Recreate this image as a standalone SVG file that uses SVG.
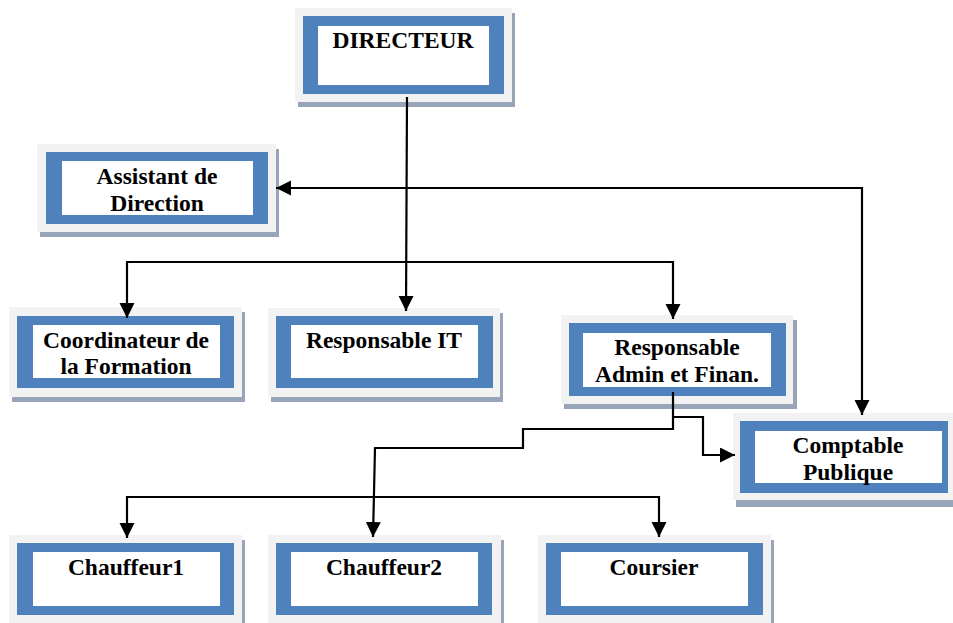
<svg xmlns="http://www.w3.org/2000/svg" width="953" height="623" viewBox="0 0 953 623">
<style>
.sh{fill:#98a4b8}
.fr{fill:#f2f2f2}
.bl{fill:#4f81bd}
.wh{fill:#ffffff}
.t{font-family:"Liberation Serif","Times New Roman",serif;font-weight:bold;font-size:23.5px;fill:#000;text-anchor:middle}
.c{fill:none;stroke:#000;stroke-width:2.2}
</style>
<defs>
<marker id="ah" markerUnits="userSpaceOnUse" markerWidth="16" markerHeight="16" refX="15" refY="7.5" orient="auto" viewBox="0 0 16 16">
<path d="M0,0 L15,7.5 L0,15 z" fill="#000"/>
</marker>
</defs>
<rect width="953" height="623" fill="#fff"/>

<g id="directeur">
<rect class="sh" x="298" y="13" width="217" height="94"/>
<rect class="fr" x="295" y="8" width="217" height="94"/>
<rect class="bl" x="303" y="16" width="201" height="78"/>
<rect class="wh" x="318" y="26" width="171" height="59"/>
<text class="t" x="403" y="48">DIRECTEUR</text>
</g>

<g id="assistant">
<rect class="sh" x="40" y="149" width="239" height="88"/>
<rect class="fr" x="37" y="144" width="239" height="88"/>
<rect class="bl" x="46" y="152" width="222" height="72"/>
<rect class="wh" x="62" y="161" width="191" height="54"/>
<text class="t" x="157" y="184">Assistant de</text>
<text class="t" x="157" y="211">Direction</text>
</g>

<g id="coordinateur">
<rect class="sh" x="12" y="312" width="233" height="90"/>
<rect class="fr" x="9" y="307" width="233" height="90"/>
<rect class="bl" x="17" y="316" width="217" height="72"/>
<rect class="wh" x="33" y="325" width="187" height="53"/>
<text class="t" x="126" y="348">Coordinateur de</text>
<text class="t" x="126" y="374">la Formation</text>
</g>

<g id="responsable-it">
<rect class="sh" x="271" y="313" width="232" height="89"/>
<rect class="fr" x="268" y="308" width="232" height="89"/>
<rect class="bl" x="276" y="316" width="217" height="72"/>
<rect class="wh" x="291" y="325" width="187" height="53"/>
<text class="t" x="384" y="348">Responsable IT</text>
</g>

<g id="responsable-admin">
<rect class="sh" x="564" y="320" width="233" height="89"/>
<rect class="fr" x="561" y="315" width="232" height="89"/>
<rect class="bl" x="569" y="323" width="217" height="73"/>
<rect class="wh" x="583" y="333" width="188" height="54"/>
<text class="t" x="677" y="355">Responsable</text>
<text class="t" x="677" y="382">Admin et Finan.</text>
</g>

<g id="comptable">
<rect class="sh" x="736" y="418" width="230" height="89"/>
<rect class="fr" x="733" y="413" width="230" height="87"/>
<rect class="bl" x="740" y="421" width="208" height="72"/>
<rect class="wh" x="755" y="431" width="187" height="52"/>
<text class="t" x="848" y="453">Comptable</text>
<text class="t" x="848" y="480">Publique</text>
</g>

<g id="chauffeur1">
<rect class="sh" x="12" y="540" width="233" height="90"/>
<rect class="fr" x="9" y="535" width="233" height="90"/>
<rect class="bl" x="17" y="543" width="217" height="72"/>
<rect class="wh" x="33" y="552" width="187" height="54"/>
<text class="t" x="126" y="575">Chauffeur1</text>
</g>

<g id="chauffeur2">
<rect class="sh" x="271" y="540" width="233" height="90"/>
<rect class="fr" x="268" y="535" width="233" height="90"/>
<rect class="bl" x="276" y="543" width="216" height="72"/>
<rect class="wh" x="291" y="552" width="187" height="54"/>
<text class="t" x="384" y="575">Chauffeur2</text>
</g>

<g id="coursier">
<rect class="sh" x="541" y="540" width="233" height="90"/>
<rect class="fr" x="538" y="535" width="233" height="90"/>
<rect class="bl" x="546" y="543" width="217" height="72"/>
<rect class="wh" x="561" y="552" width="187" height="54"/>
<text class="t" x="654" y="575">Coursier</text>
</g>

<g id="connectors">
<path class="c" d="M407,97 L406,311" marker-end="url(#ah)"/>
<path class="c" d="M862,188 L276,188" marker-end="url(#ah)"/>
<path class="c" d="M862,187 L862,415" marker-end="url(#ah)"/>
<path class="c" d="M127,262 L127,318" marker-end="url(#ah)"/>
<path class="c" d="M126,262 L673,262 L673,319" marker-end="url(#ah)"/>
<path class="c" d="M673,392 L673,417 L703,417 L703,455 L735,455" marker-end="url(#ah)"/>
<path class="c" d="M673,417 L673,429 L523,429 L523,448 L375,448 L373,537" marker-end="url(#ah)"/>
<path class="c" d="M127,497 L127,538" marker-end="url(#ah)"/>
<path class="c" d="M126,497 L659,497 L659,537" marker-end="url(#ah)"/>
</g>
</svg>
